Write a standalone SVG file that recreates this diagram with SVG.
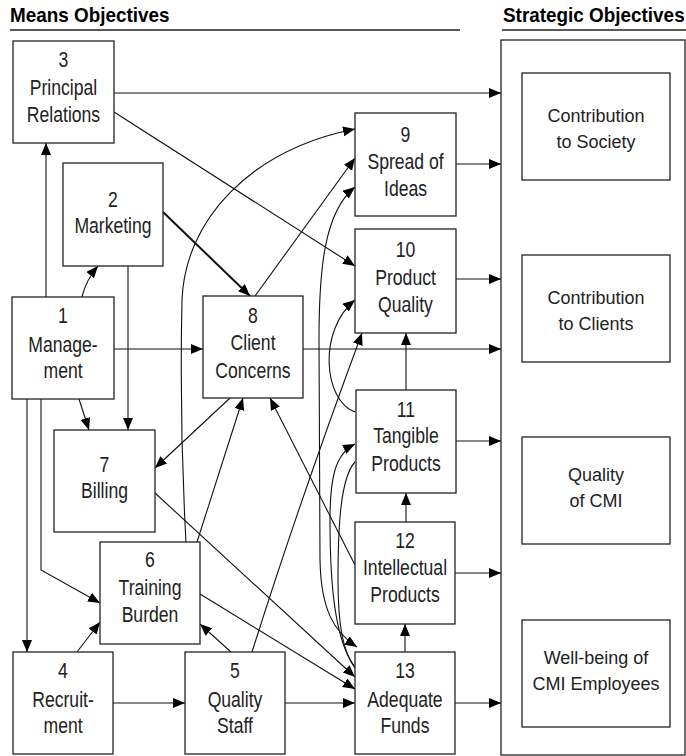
<svg xmlns="http://www.w3.org/2000/svg" width="686" height="756" viewBox="0 0 686 756">
<style>
.box{fill:#fff;stroke:#222;stroke-width:1.3}
.t{font-family:"Liberation Sans",Arial,sans-serif;font-size:22px;fill:#222;text-anchor:middle;transform-box:fill-box;transform-origin:center;transform:scaleX(.8)}
.s{font-family:"Liberation Sans",Arial,sans-serif;font-size:18px;fill:#222;text-anchor:middle}
.h{font-family:"Liberation Sans",Arial,sans-serif;font-size:21px;font-weight:bold;fill:#000;transform-box:fill-box;transform-origin:0 50%;transform:scaleX(.9)}
.c{fill:none;stroke:#111;stroke-width:1.1;marker-end:url(#a)}
.p{fill:none;stroke:#111;stroke-width:1.1}
.k{stroke-width:2}
</style>
<defs>
<marker id="a" markerUnits="userSpaceOnUse" markerWidth="13" markerHeight="11" refX="12" refY="5" orient="auto-start-reverse" viewBox="0 0 13 11">
<path d="M0,0 L12,5 L0,10 z" fill="#000"/>
</marker>
</defs>
<rect width="686" height="756" fill="#fff"/>
<g id="headers">
<text class="h" x="10" y="22">Means Objectives</text>
<text class="h" x="503" y="22">Strategic Objectives</text>
<line x1="10" y1="30" x2="460" y2="30" stroke="#222" stroke-width="1.3"/>
<line x1="502" y1="30" x2="686" y2="30" stroke="#222" stroke-width="1.3"/>
</g>
<g id="strategic">
<rect class="box" x="501" y="40" width="184" height="715"/>
<g id="s1"><rect class="box" x="522" y="73" width="148" height="107"/><text class="s" x="596" y="122">Contribution</text><text class="s" x="596" y="148">to Society</text></g>
<g id="s2"><rect class="box" x="522" y="255" width="148" height="107"/><text class="s" x="596" y="304">Contribution</text><text class="s" x="596" y="330">to Clients</text></g>
<g id="s3"><rect class="box" x="522" y="437" width="148" height="107"/><text class="s" x="596" y="481">Quality</text><text class="s" x="596" y="507">of CMI</text></g>
<g id="s4"><rect class="box" x="522" y="620" width="148" height="107"/><text class="s" x="596" y="664">Well-being of</text><text class="s" x="596" y="690">CMI Employees</text></g>
</g>
<g id="connectors">
<!-- links into the strategic objectives column -->
<path class="c" d="M114,93 H501"/>
<path class="c" d="M456,164 H501"/>
<path class="c" d="M456,279 H501"/>
<path class="c" d="M303,349 H501"/>
<path class="c" d="M456,441 H501"/>
<path class="c" d="M455,573 H501"/>
<path class="c" d="M455,703 H501"/>
<!-- means-to-means links -->
<path class="c" d="M114,112 L355,266"/>
<path class="c" d="M46,297 V143"/>
<path class="c" d="M82,297 Q86,280 98,266"/>
<path class="c k" d="M163,212 L250,296"/>
<path class="c" d="M128,266 V430"/>
<path class="c" d="M79,399 L89,430"/>
<path class="c" d="M114,349 H203"/>
<path class="c" d="M27,399 V652"/>
<path class="c" d="M41,399 V570 L100,603"/>
<path class="c" d="M77,652 L100,622"/>
<path class="c" d="M113,703 H185"/>
<path class="c" d="M231,652 L200,624"/>
<path class="c" d="M285,703 H355"/>
<path class="c" d="M252,652 Q300,500 362,333"/>
<path class="c" d="M405,652 V624"/>
<path class="c" d="M406,522 V493"/>
<path class="c" d="M406,390 V333"/>
<path class="c" d="M155,493 L355,677"/>
<path class="c" d="M200,594 L355,689"/>
<path class="c" d="M230,398 L155,468"/>
<path class="c" d="M197,542 L243,398"/>
<path class="c" d="M355,565 L270,398"/>
<path class="c" d="M255,296 L355,158"/>
<path class="c" d="M186,542 C182,470 180,390 182,300 C185,220 250,150 355,129"/>
<!-- curved links along the left side of the product column -->
<path class="c" d="M355,187 C324,212 319,270 319,340 L320,560 C321,610 334,632 357,647" marker-start="url(#a)"/>
<path class="c" d="M355,412 C323,400 318,330 355,300"/>
<path class="c" d="M355,667 C334,640 330,580 330,520 C330,478 335,454 355,444"/>
<path class="p" d="M355,462 C340,478 338,530 338,580 C338,625 343,652 355,668"/>
</g>
<g id="n3"><rect class="box" x="13" y="41" width="101" height="102"/><text class="t" x="63.5" y="67">3</text><text class="t" x="63.5" y="95">Principal</text><text class="t" x="63.5" y="122">Relations</text></g>
<g id="n2"><rect class="box" x="63" y="163" width="100" height="103"/><text class="t" x="113" y="207">2</text><text class="t" x="113" y="233">Marketing</text></g>
<g id="n1"><rect class="box" x="12" y="297" width="102" height="102"/><text class="t" x="63" y="323">1</text><text class="t" x="63" y="352">Manage-</text><text class="t" x="63" y="378">ment</text></g>
<g id="n7"><rect class="box" x="54" y="430" width="101" height="102"/><text class="t" x="104.5" y="472">7</text><text class="t" x="104.5" y="498">Billing</text></g>
<g id="n6"><rect class="box" x="100" y="542" width="100" height="102"/><text class="t" x="150" y="567">6</text><text class="t" x="150" y="595">Training</text><text class="t" x="150" y="622">Burden</text></g>
<g id="n4"><rect class="box" x="13" y="652" width="100" height="102"/><text class="t" x="63" y="678">4</text><text class="t" x="63" y="707">Recruit-</text><text class="t" x="63" y="733">ment</text></g>
<g id="n5"><rect class="box" x="185" y="652" width="100" height="102"/><text class="t" x="235" y="678">5</text><text class="t" x="235" y="707">Quality</text><text class="t" x="235" y="733">Staff</text></g>
<g id="n8"><rect class="box" x="203" y="296" width="100" height="102"/><text class="t" x="253" y="323">8</text><text class="t" x="253" y="350">Client</text><text class="t" x="253" y="378">Concerns</text></g>
<g id="n9"><rect class="box" x="355" y="113" width="101" height="103"/><text class="t" x="405.5" y="142">9</text><text class="t" x="405.5" y="169">Spread of</text><text class="t" x="405.5" y="196">Ideas</text></g>
<g id="n10"><rect class="box" x="355" y="229" width="101" height="104"/><text class="t" x="405.5" y="257">10</text><text class="t" x="405.5" y="285">Product</text><text class="t" x="405.5" y="312">Quality</text></g>
<g id="n11"><rect class="box" x="356" y="390" width="100" height="103"/><text class="t" x="406" y="417">11</text><text class="t" x="406" y="443">Tangible</text><text class="t" x="406" y="471">Products</text></g>
<g id="n12"><rect class="box" x="355" y="522" width="100" height="102"/><text class="t" x="405" y="548">12</text><text class="t" x="405" y="575">Intellectual</text><text class="t" x="405" y="602">Products</text></g>
<g id="n13"><rect class="box" x="355" y="652" width="100" height="102"/><text class="t" x="405" y="678">13</text><text class="t" x="405" y="707">Adequate</text><text class="t" x="405" y="733">Funds</text></g>
</svg>
